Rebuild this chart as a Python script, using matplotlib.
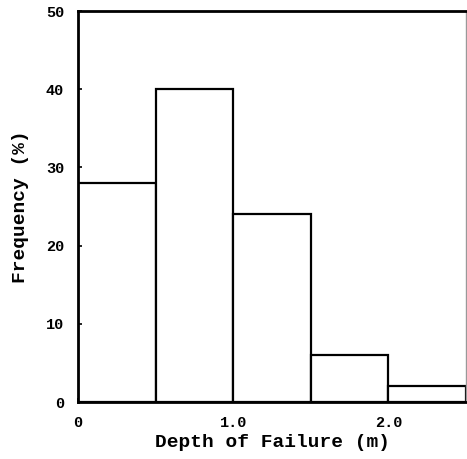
import matplotlib.pyplot as plt

# histogram of failure depth
bin_edges = [0.0, 0.5, 1.0, 1.5, 2.0, 2.5]
freq = [28, 40, 24, 6, 2]
xticks = [0, 1.0, 2.0]
xtick_labels = ["0", "1.0", "2.0"]
yticks = [0, 10, 20, 30, 40, 50]

fnt = "Liberation Mono"

fig = plt.figure(figsize=(4.67, 4.59), dpi=100)
fig.set_facecolor("white")
ax = fig.add_axes([0.167, 0.124, 0.831, 0.852])

widths = [bin_edges[i+1] - bin_edges[i] for i in range(len(freq))]
ax.bar(bin_edges[:-1], freq, width=widths, align="edge",
       facecolor="white", edgecolor="black", linewidth=1.6)

ax.set_xlim(0, 2.5)
ax.set_ylim(0, 50)
ax.set_xticks(xticks)
ax.set_xticklabels(xtick_labels, fontfamily=fnt, fontweight="bold", fontsize=11)
ax.set_yticks(yticks)
ax.set_yticklabels([str(v) for v in yticks], fontfamily=fnt, fontweight="bold", fontsize=11)
ax.tick_params(direction="in", length=3, width=1.2, pad=10)

for s in ["left", "bottom", "top"]:
	ax.spines[s].set_linewidth(2)
ax.spines["right"].set_linewidth(1)
ax.spines["right"].set_color("#999999")

ax.set_xlabel("Depth of Failure (m)", fontfamily=fnt, fontweight="bold", fontsize=14, labelpad=3)
ax.set_ylabel("Frequency (%)", fontfamily=fnt, fontweight="bold", fontsize=14, labelpad=12)

plt.savefig("out.png", dpi=100)
